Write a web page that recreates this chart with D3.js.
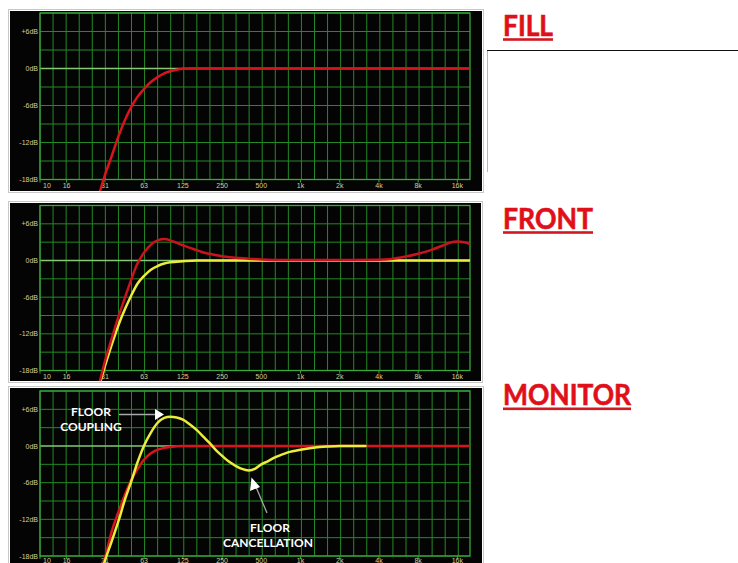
<!DOCTYPE html>
<html>
<head>
<meta charset="utf-8">
<script src="https://cdn.jsdelivr.net/npm/d3@7/dist/d3.min.js"></script>
<style>
  html, body { margin: 0; padding: 0; background: #ffffff; }
  svg { display: block; }
</style>
</head>
<body>
<svg id="chart" width="738" height="563"></svg>
<script>
// ---- data: frequency (Hz) / level (dB) pairs for each response ----
const panelTitles = ["FILL", "FRONT", "MONITOR"];

const fillResponse = [[25,-25],[27,-22.5],[29,-19.8],[31.5,-17.3],[35.5,-14.2],[40,-11],[45,-8.3],[50,-6.3],[56,-4.6],[63,-3.3],[71,-2.2],[80,-1.4],[90,-0.8],[100,-0.45],[112,-0.2],[125,-0.05],[140,0],[20000,0]];

const frontFlat = [[25,-26],[27,-23],[29,-20],[31.5,-17.3],[35.5,-13.8],[40,-10.6],[45,-7.9],[50,-5.8],[56,-3.8],[63,-2.5],[71,-1.5],[80,-0.9],[90,-0.5],[100,-0.3],[125,-0.12],[160,0],[20000,0]];
const frontMeasured = [[25,-25],[27,-22],[29,-19.5],[31.5,-16.5],[35.5,-12.8],[40,-9.2],[45,-6],[50,-3.2],[56,-0.5],[63,1.3],[71,2.6],[80,3.3],[90,3.5],[100,3.3],[112,2.9],[125,2.5],[140,2.1],[160,1.7],[180,1.3],[200,1.1],[250,0.7],[315,0.45],[400,0.3],[500,0.15],[630,0.1],[1000,0.08],[2500,0.08],[4000,0.12],[5000,0.25],[6300,0.6],[8000,1.1],[10000,1.7],[12500,2.5],[14000,2.9],[16000,3.1],[18000,3.0],[20000,2.7]];

const monitorFlat = [[25,-26],[27,-23],[29,-20.8],[31.5,-18.4],[35.5,-14],[40,-10.8],[45,-7.9],[50,-5.6],[56,-3.8],[63,-2.2],[71,-1.2],[80,-0.6],[90,-0.3],[100,-0.15],[125,0],[20000,0]];
const monitorMeasured = [[25,-27],[27,-24],[29,-21.3],[31.5,-18.8],[35.5,-15.6],[40,-12.3],[45,-8.7],[50,-5.9],[56,-2.7],[63,0.1],[71,2.2],[80,3.8],[90,4.6],[100,4.8],[112,4.65],[125,4.3],[140,3.6],[160,2.6],[180,1.5],[200,0.5],[225,-0.7],[250,-1.6],[280,-2.5],[315,-3.2],[355,-3.75],[400,-4.0],[450,-3.7],[500,-3.0],[560,-2.5],[630,-1.9],[710,-1.45],[800,-1.05],[1000,-0.6],[1250,-0.3],[1600,-0.1],[2000,0],[3150,0]];

// ---- axis ticks ----
const xTickValues = [10, 16, 31.5, 63, 125, 250, 500, 1000, 2000, 4000, 8000, 16000];
const xTickLabels = ["10","16","31","63","125","250","500","1k","2k","4k","8k","16k"];
const yTickValues = [6, 0, -6, -12, -18];
const yTickLabels = ["+6dB","0dB","-6dB","-12dB","-18dB"];
const dbDomain = [-18, 9];
const hzDomain = [10, 20000];

// ---- layout ----
const RED = "#d8141c", YELLOW = "#ecec3c";
const panels = [
  { title: panelTitles[0], box: [10, 11, 472, 180], plot: [13, 179.5], labelDy: 8.5, titleY: 36, ulY: 38.2, ulW: 50,
    series: [{ data: fillResponse, color: RED }] },
  { title: panelTitles[1], box: [10, 203, 471, 178], plot: [205.5, 370.5], labelDy: 8.5, titleY: 229, ulY: 231.2, ulW: 90,
    series: [{ data: frontFlat, color: YELLOW }, { data: frontMeasured, color: "#c8141c" }] },
  { title: panelTitles[2], box: [10, 388, 472, 180], plot: [391, 556], labelDy: 6.5, titleY: 405, ulY: 407.5, ulW: 128,
    series: [{ data: monitorFlat, color: RED }, { data: monitorMeasured, color: YELLOW }] }
];

const svg = d3.select("#chart");
const x = d3.scaleLog().domain(hzDomain).range([40, 470]);

// third-octave grid frequencies
const gridHz = d3.range(0, 33).map(n => 10 * Math.pow(2, n / 3));

panels.forEach((p, i) => {
  const [bx, by, bw, bh] = p.box;
  const y = d3.scaleLinear().domain(dbDomain).range([p.plot[1], p.plot[0]]);
  const g = svg.append("g");

  // panel background
  g.append("rect").attr("x", bx - 1.5).attr("y", by - 1.5).attr("width", bw + 3).attr("height", bh + 3)
    .attr("fill", "none").attr("stroke", "#c8c8c8").attr("stroke-width", 1);
  g.append("rect").attr("x", bx).attr("y", by).attr("width", bw).attr("height", bh).attr("fill", "#040404");

  // grid
  const grid = g.append("g");
  grid.selectAll("line.v").data(gridHz).join("line")
    .attr("x1", d => x(d)).attr("x2", d => x(d))
    .attr("y1", y(dbDomain[1])).attr("y2", y(dbDomain[0]))
    .attr("stroke", "#248a26").attr("stroke-width", 1);
  grid.selectAll("line.h").data(d3.range(dbDomain[0], dbDomain[1] + 1, 3)).join("line")
    .attr("x1", x.range()[0]).attr("x2", x.range()[1])
    .attr("y1", d => y(d)).attr("y2", d => y(d))
    .attr("stroke", d => d === 0 ? "#86c878" : "#248a26")
    .attr("stroke-width", d => d === 0 ? 1.6 : 1);
  // frame
  g.append("rect").attr("x", x.range()[0]).attr("y", y(dbDomain[1]))
    .attr("width", x.range()[1] - x.range()[0]).attr("height", y(dbDomain[0]) - y(dbDomain[1]))
    .attr("fill", "none").attr("stroke", "#3aa83a").attr("stroke-width", 1.3);
  // bottom tick marks
  g.selectAll("line.t").data(xTickValues).join("line")
    .attr("x1", d => x(d)).attr("x2", d => x(d))
    .attr("y1", y(dbDomain[0])).attr("y2", y(dbDomain[0]) + 3)
    .attr("stroke", "#3aa83a").attr("stroke-width", 1);

  // y labels
  g.selectAll("text.y").data(yTickValues).join("text")
    .attr("x", 38).attr("y", d => y(d) + 2.5)
    .attr("text-anchor", "end")
    .attr("font-family", "Liberation Sans, Arial, sans-serif").attr("font-size", 7)
    .attr("fill", "#d8cf98")
    .text((d, k) => yTickLabels[k]);
  // x labels
  g.selectAll("text.x").data(xTickValues).join("text")
    .attr("x", (d, k) => k === 0 ? x(d) + 3 : x(d))
    .attr("y", y(dbDomain[0]) + p.labelDy)
    .attr("text-anchor", (d, k) => k === 0 ? "start" : "middle")
    .attr("font-family", "Liberation Sans, Arial, sans-serif").attr("font-size", 7)
    .attr("fill", "#d8cf98")
    .text((d, k) => xTickLabels[k]);

  // curves, clipped to the panel
  const clipId = "clip" + i;
  svg.append("clipPath").attr("id", clipId).append("rect")
    .attr("x", x.range()[0]).attr("y", by).attr("width", x.range()[1] - x.range()[0]).attr("height", bh);
  const line = d3.line().x(d => x(d[0])).y(d => y(d[1])).curve(d3.curveMonotoneX);
  const cg = g.append("g").attr("clip-path", `url(#${clipId})`);
  p.series.forEach(s => {
    cg.append("path").datum(s.data).attr("d", line)
      .attr("fill", "none").attr("stroke", s.color).attr("stroke-width", 2.5)
      .attr("stroke-linejoin", "round").attr("stroke-linecap", "round");
  });

  // title with underline
  svg.append("text").attr("x", 503).attr("y", p.titleY)
    .attr("font-family", "Lato, 'Open Sans', sans-serif").attr("font-weight", 700)
    .attr("font-size", 28).attr("fill", "#e0101a")
    .attr("stroke", "#e0101a").attr("stroke-width", 0.6)
    .attr("textLength", p.ulW).attr("lengthAdjust", "spacingAndGlyphs")
    .text(p.title);
  svg.append("rect").attr("x", 503).attr("y", p.ulY).attr("width", p.ulW).attr("height", 2.6)
    .attr("fill", "#d41820");

  // annotations on the monitor response
  if (p.title === "MONITOR") {
    const ann = g.append("g").attr("font-family", "Lato, 'Open Sans', sans-serif")
      .attr("font-weight", 700).attr("font-size", 12).attr("fill", "#ffffff")
      .attr("text-anchor", "middle");
    ann.append("text").attr("x", 91).attr("y", 416).text("FLOOR");
    ann.append("text").attr("x", 91).attr("y", 431).text("COUPLING");
    ann.append("text").attr("x", 270).attr("y", 532).text("FLOOR");
    ann.append("text").attr("x", 268).attr("y", 547).text("CANCELLATION");

    // coupling arrow
    g.append("line").attr("x1", 119).attr("y1", 414.5).attr("x2", 156).attr("y2", 414.5)
      .attr("stroke", "#a8a8a8").attr("stroke-width", 1.3);
    g.append("path").attr("d", "M164,414.5 L155,409 L155,420 Z").attr("fill", "#ffffff");
    // cancellation arrow
    g.append("line").attr("x1", 267).attr("y1", 513).attr("x2", 256).attr("y2", 487)
      .attr("stroke", "#a8a8a8").attr("stroke-width", 1.3);
    g.append("path").attr("d", "M251.5,477.5 L250,491 L260,487 Z").attr("fill", "#ffffff");
  }
});

// divider lines beside the top panel
svg.append("line").attr("x1", 487).attr("x2", 738).attr("y1", 50.5).attr("y2", 50.5)
  .attr("stroke", "#111").attr("stroke-width", 1);
svg.append("line").attr("x1", 487.5).attr("x2", 487.5).attr("y1", 51).attr("y2", 172)
  .attr("stroke", "#b8b8b8").attr("stroke-width", 1);
</script>
</body>
</html>
